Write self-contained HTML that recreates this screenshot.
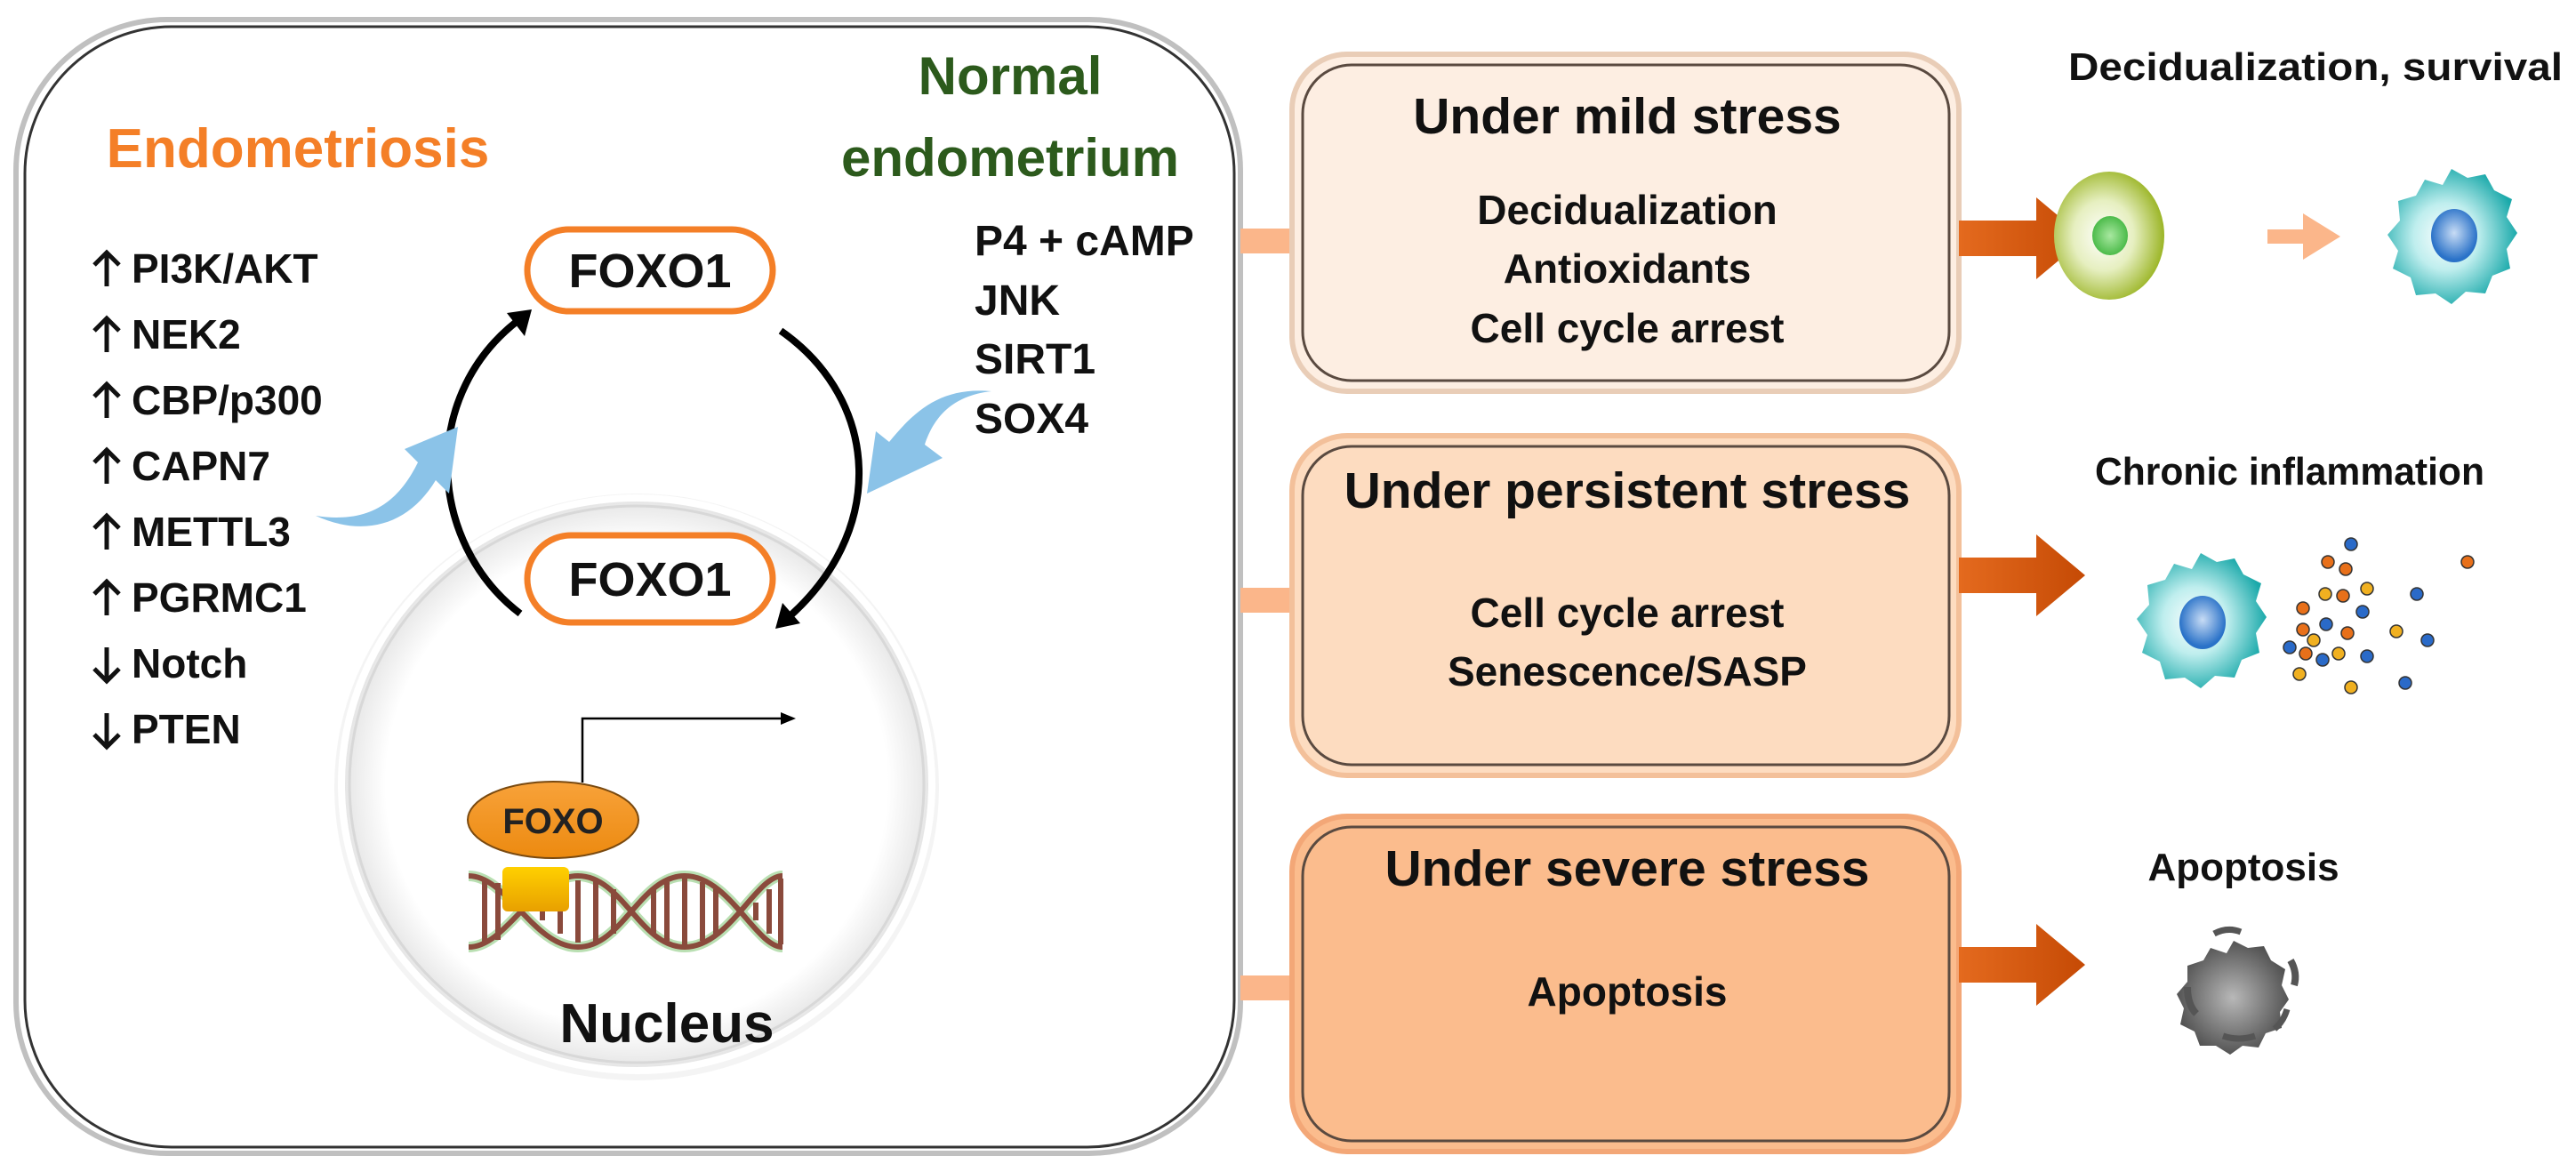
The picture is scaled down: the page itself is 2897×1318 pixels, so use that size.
<!DOCTYPE html>
<html><head><meta charset="utf-8"><style>
html,body{margin:0;padding:0;background:#fff;overflow:hidden;}
svg{display:block;}
text{font-family:"Liberation Sans",sans-serif;font-weight:bold;}
</style></head><body>
<svg width="2897" height="1318" viewBox="0 0 2897 1318" xmlns="http://www.w3.org/2000/svg">
<defs>
<radialGradient id="nuc" cx="50%" cy="50%" r="50%">
<stop offset="0.85" stop-color="#ffffff"/><stop offset="1" stop-color="#e4e4e4"/></radialGradient>
<linearGradient id="oarr" x1="0" x2="1"><stop offset="0" stop-color="#e46a1e"/><stop offset="1" stop-color="#c54a05"/></linearGradient>
<radialGradient id="gcell" cx="45%" cy="50%" r="55%"><stop offset="0" stop-color="#ffffff"/><stop offset="0.5" stop-color="#e6efc0"/><stop offset="1" stop-color="#9bb526"/></radialGradient>
<radialGradient id="gnuc" cx="50%" cy="50%" r="50%"><stop offset="0" stop-color="#a8e8a0"/><stop offset="1" stop-color="#4cbb4a"/></radialGradient>
<radialGradient id="tcell" cx="45%" cy="50%" r="55%"><stop offset="0" stop-color="#ffffff"/><stop offset="0.45" stop-color="#bfeeee"/><stop offset="1" stop-color="#1aa9aa"/></radialGradient>
<radialGradient id="bnuc" cx="50%" cy="45%" r="50%"><stop offset="0" stop-color="#c8dcf5"/><stop offset="1" stop-color="#2a72c8"/></radialGradient>
<radialGradient id="acell" cx="50%" cy="50%" r="55%"><stop offset="0" stop-color="#b8b8b8"/><stop offset="1" stop-color="#4a4a4a"/></radialGradient>
<linearGradient id="foxo" x1="0" y1="0" x2="0" y2="1"><stop offset="0" stop-color="#f8a23a"/><stop offset="1" stop-color="#ec8a10"/></linearGradient>
<linearGradient id="yel" x1="0" y1="0" x2="0" y2="1"><stop offset="0" stop-color="#ffd000"/><stop offset="1" stop-color="#e8a000"/></linearGradient>
</defs>

<rect x="18" y="22" width="1377" height="1275" rx="170" fill="#fff" stroke="#c0c0c0" stroke-width="6"/>
<rect x="28" y="30" width="1360" height="1260" rx="165" fill="none" stroke="#333" stroke-width="3"/>

<text x="335" y="188" text-anchor="middle" font-size="62" fill="#f47f27">Endometriosis</text>
<text x="1136" y="106" text-anchor="middle" font-size="60" fill="#2c5a1c">Normal</text>
<text x="1136" y="198" text-anchor="middle" font-size="60" fill="#2c5a1c">endometrium</text>

<g font-size="46" fill="#111">
<text x="148" y="318">PI3K/AKT</text>
<text x="148" y="392">NEK2</text>
<text x="148" y="466">CBP/p300</text>
<text x="148" y="540">CAPN7</text>
<text x="148" y="614">METTL3</text>
<text x="148" y="688">PGRMC1</text>
<text x="148" y="762">Notch</text>
<text x="148" y="836">PTEN</text>
</g>
<g stroke="#111" stroke-width="5" fill="none">
<path d="M120,322 V284 M106,298 L120,284 L134,298"/>
<path d="M120,396 V358 M106,372 L120,358 L134,372"/>
<path d="M120,470 V432 M106,446 L120,432 L134,446"/>
<path d="M120,544 V506 M106,520 L120,506 L134,520"/>
<path d="M120,618 V580 M106,594 L120,580 L134,594"/>
<path d="M120,692 V654 M106,668 L120,654 L134,668"/>
<path d="M120,728 V766 M106,752 L120,766 L134,752"/>
<path d="M120,802 V840 M106,826 L120,840 L134,826"/>
</g>
<g font-size="48" fill="#111">
<text x="1096" y="287">P4 + cAMP</text>
<text x="1096" y="354">JNK</text>
<text x="1096" y="420">SIRT1</text>
<text x="1096" y="487">SOX4</text>
</g>

<ellipse cx="716" cy="885" rx="340" ry="330" fill="#ececec" opacity="0.6"/>
<ellipse cx="716" cy="882" rx="332" ry="322" fill="url(#nuc)" stroke="#fff" stroke-width="8"/>
<ellipse cx="716" cy="882" rx="323" ry="313" fill="none" stroke="#d8d8d8" stroke-width="3"/>
<text x="750" y="1172" text-anchor="middle" font-size="62" fill="#111">Nucleus</text>

<path d="M585,690 C480,610 470,440 590,355" fill="none" stroke="#000" stroke-width="8"/>
<polygon points="598,348 570,352 590,378" fill="#000"/>
<path d="M878,372 C990,450 1000,600 880,700" fill="none" stroke="#000" stroke-width="8"/>
<polygon points="872,707 900,701 880,678" fill="#000"/>

<path d="M355,580 C420,590 450,560 470,520 L455,505 L515,480 L505,555 L490,540 C460,590 410,605 355,580 Z" fill="#8bc3e8"/>
<path d="M1115,440 C1070,445 1050,470 1040,500 L1060,515 L975,555 L985,485 L1000,497 C1030,460 1060,435 1115,440 Z" fill="#8bc3e8"/>

<rect x="593" y="258" width="276" height="92" rx="46" fill="#fff" stroke="#f47f27" stroke-width="7"/>
<text x="731" y="323" text-anchor="middle" font-size="54" fill="#111">FOXO1</text>
<rect x="593" y="602" width="276" height="98" rx="49" fill="#fff" stroke="#f47f27" stroke-width="7"/>
<text x="731" y="670" text-anchor="middle" font-size="54" fill="#111">FOXO1</text>

<polyline points="655,880 655,808 880,808" fill="none" stroke="#000" stroke-width="2.5"/>
<polygon points="895,808 878,801 878,815" fill="#000"/>

<g stroke="#a8d8a0" stroke-width="12" fill="none" opacity="0.8">
<path d="M527,985 C570,985 600,1065 650,1065 C700,1065 720,985 770,985 C820,985 850,1065 880,1065"/>
<path d="M527,1065 C570,1065 600,985 650,985 C700,985 720,1065 770,1065 C820,1065 850,985 880,985"/>
</g>
<g stroke="#8a4a3c" stroke-width="6" fill="none">
<path d="M527,985 C570,985 600,1065 650,1065 C700,1065 720,985 770,985 C820,985 850,1065 880,1065"/>
<path d="M527,1065 C570,1065 600,985 650,985 C700,985 720,1065 770,1065 C820,1065 850,985 880,985"/>
<path d="M545,990 V1060 M560,993 V1057 M610,1015 V1035 M630,1000 V1050 M650,990 V1060 M670,990 V1060 M690,1000 V1050 M735,1000 V1050 M750,992 V1058 M770,988 V1062 M790,992 V1058 M805,1000 V1050 M850,1015 V1035 M865,1000 V1050 M878,988 V1062"/>
</g>
<rect x="565" y="975" width="75" height="50" rx="6" fill="url(#yel)"/>
<ellipse cx="622" cy="922" rx="96" ry="43" fill="url(#foxo)" stroke="#7a4a10" stroke-width="2"/>
<text x="622" y="937" text-anchor="middle" font-size="40" fill="#222">FOXO</text>

<rect x="1395" y="257" width="72" height="28" fill="#fbb68a"/>
<rect x="1395" y="661" width="72" height="28" fill="#fbb68a"/>
<rect x="1395" y="1097" width="72" height="28" fill="#fbb68a"/>

<rect x="1453" y="61" width="750" height="379" rx="62" fill="#fdeee2" stroke="#e9cdb7" stroke-width="6"/>
<rect x="1465" y="73" width="727" height="355" rx="55" fill="none" stroke="#5a4a40" stroke-width="3"/>
<rect x="1453" y="490" width="750" height="382" rx="62" fill="#fddcc0" stroke="#f3c09a" stroke-width="6"/>
<rect x="1465" y="502" width="727" height="358" rx="55" fill="none" stroke="#5a4a40" stroke-width="3"/>
<rect x="1453" y="918" width="750" height="377" rx="62" fill="#fbbc8d" stroke="#f3a777" stroke-width="6"/>
<rect x="1465" y="930" width="727" height="353" rx="55" fill="none" stroke="#5a4a40" stroke-width="3"/>

<g font-size="57" fill="#111" text-anchor="middle">
<text x="1830" y="150">Under mild stress</text>
<text x="1830" y="571">Under persistent stress</text>
<text x="1830" y="996">Under severe stress</text>
</g>
<g font-size="46" fill="#111" text-anchor="middle">
<text x="1830" y="252">Decidualization</text>
<text x="1830" y="318">Antioxidants</text>
<text x="1830" y="385">Cell cycle arrest</text>
<text x="1830" y="705">Cell cycle arrest</text>
<text x="1830" y="771">Senescence/SASP</text>
<text x="1830" y="1131">Apoptosis</text>
</g>

<g fill="url(#oarr)">
<polygon points="2203,248 2290,248 2290,222 2345,268 2290,314 2290,288 2203,288"/>
<polygon points="2203,627 2290,627 2290,601 2345,647 2290,693 2290,667 2203,667"/>
<polygon points="2203,1065 2290,1065 2290,1039 2345,1085 2290,1131 2290,1105 2203,1105"/>
</g>

<g font-size="44" fill="#111" text-anchor="middle">
<text x="2604" y="90" textLength="556" lengthAdjust="spacingAndGlyphs">Decidualization, survival</text>
<text x="2575" y="545" textLength="438" lengthAdjust="spacingAndGlyphs">Chronic inflammation</text>
<text x="2523" y="990">Apoptosis</text>
</g>

<ellipse cx="2372" cy="265" rx="62" ry="72" fill="url(#gcell)"/>
<ellipse cx="2373" cy="265" rx="20" ry="22" fill="url(#gnuc)"/>
<polygon points="2550,258 2590,258 2590,240 2632,266 2590,292 2590,274 2550,274" fill="#fbb68a"/>
<path d="M2757,190 l18,10 20,-4 10,18 20,10 -6,20 12,18 -12,18 4,22 -20,8 -8,20 -22,-2 -16,14 -18,-12 -22,2 -6,-20 -20,-10 6,-20 -12,-18 14,-16 -2,-22 20,-6 10,-18 20,6 z" fill="url(#tcell)"/>
<ellipse cx="2760" cy="265" rx="26" ry="30" fill="url(#bnuc)"/>

<path d="M2475,622 l18,10 20,-4 10,18 20,10 -6,20 12,18 -12,18 4,22 -20,8 -8,20 -22,-2 -16,14 -18,-12 -22,2 -6,-20 -20,-10 6,-20 -12,-18 14,-16 -2,-22 20,-6 10,-18 20,6 z" fill="url(#tcell)"/>
<ellipse cx="2477" cy="700" rx="26" ry="30" fill="url(#bnuc)"/>
<g stroke="#333" stroke-width="1.5">
<circle cx="2618" cy="632" r="7" fill="#e8701a"/><circle cx="2644" cy="612" r="7" fill="#2a6ac8"/><circle cx="2638" cy="640" r="7" fill="#e8701a"/>
<circle cx="2775" cy="632" r="7" fill="#e8701a"/><circle cx="2615" cy="668" r="7" fill="#f0b020"/><circle cx="2635" cy="670" r="7" fill="#e8701a"/>
<circle cx="2662" cy="662" r="7" fill="#f0b020"/><circle cx="2718" cy="668" r="7" fill="#2a6ac8"/><circle cx="2590" cy="684" r="7" fill="#e8701a"/>
<circle cx="2657" cy="688" r="7" fill="#2a6ac8"/><circle cx="2616" cy="702" r="7" fill="#2a6ac8"/><circle cx="2590" cy="708" r="7" fill="#e8701a"/>
<circle cx="2640" cy="712" r="7" fill="#e8701a"/><circle cx="2695" cy="710" r="7" fill="#f0b020"/><circle cx="2730" cy="720" r="7" fill="#2a6ac8"/>
<circle cx="2602" cy="720" r="7" fill="#f0b020"/><circle cx="2575" cy="728" r="7" fill="#2a6ac8"/><circle cx="2593" cy="735" r="7" fill="#e8701a"/>
<circle cx="2612" cy="742" r="7" fill="#2a6ac8"/><circle cx="2630" cy="735" r="7" fill="#f0b020"/><circle cx="2662" cy="738" r="7" fill="#2a6ac8"/>
<circle cx="2586" cy="758" r="7" fill="#f0b020"/><circle cx="2644" cy="773" r="7" fill="#f0b020"/><circle cx="2705" cy="768" r="7" fill="#2a6ac8"/>
</g>

<path d="M2512,1058 l16,8 18,-2 8,16 16,10 -4,18 8,16 -10,14 2,18 -18,6 -8,16 -18,-2 -14,10 -16,-10 -18,0 -6,-16 -16,-8 4,-18 -8,-16 12,-14 0,-18 18,-6 8,-14 18,6 z" fill="url(#acell)"/>
<g fill="none" stroke="#555">
<path d="M2490,1050 q15,-8 30,-2" stroke-width="7"/>
<path d="M2576,1080 q8,14 4,28" stroke-width="8"/>
<path d="M2460,1110 q0,20 10,30" stroke-width="8"/>
<path d="M2500,1165 q18,6 36,0" stroke-width="7"/>
<path d="M2572,1135 q-4,14 -14,22" stroke-width="7"/>
</g>
</svg>
</body></html>
